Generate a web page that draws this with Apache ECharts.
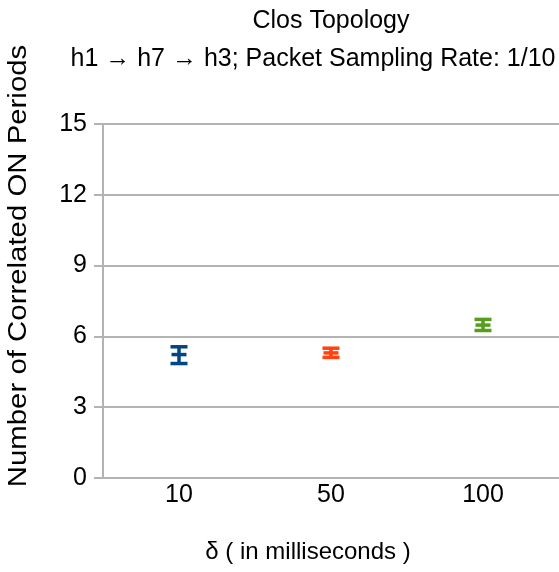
<!DOCTYPE html>
<html>
<head>
<meta charset="utf-8">
<script src="https://cdn.jsdelivr.net/npm/echarts@6/dist/echarts.min.js"></script>
<style>
  html, body { margin: 0; padding: 0; background: #fff; }
  #main { width: 559px; height: 572px; }
</style>
</head>
<body>
<div id="main"></div>
<script>
// data
var categories = ['10', '50', '100'];
var means = [5.23, 5.3, 6.48];
var lows = [4.85, 5.11, 6.25];
var highs = [5.56, 5.5, 6.72];
var colors = ['#004586', '#ff420e', '#579d1c'];

var font = "'Liberation Sans', Arial, sans-serif";
var grey = '#b3b3b3';

var chart = echarts.init(document.getElementById('main'));

var errData = categories.map(function (c, i) {
  return [i, lows[i], highs[i], means[i]];
});

chart.setOption({
  animation: false,
  title: [
    {
      text: 'Clos Topology',
      left: 326, top: 4, textAlign: 'center',
      textStyle: { fontFamily: font, fontSize: 25, fontWeight: 'normal', color: '#000' }
    },
    {
      text: 'h1 \u2192 h7 \u2192 h3; Packet Sampling Rate: 1/10',
      left: 308, top: 42, textAlign: 'center',
      textStyle: { fontFamily: font, fontSize: 25, fontWeight: 'normal', color: '#000' }
    }
  ],
  graphic: [{
    type: 'text',
    x: 19, y: 266,
    rotation: Math.PI / 2,
    scaleX: 1.13,
    style: {
      text: 'Number of Correlated ON Periods',
      font: '26px ' + font,
      fill: '#000',
      align: 'center',
      verticalAlign: 'middle'
    }
  }],
  grid: { left: 103, top: 124, right: -7, bottom: 94, containLabel: false },
  xAxis: {
    type: 'category',
    data: categories,
    name: '\u03b4 ( in milliseconds )',
    nameLocation: 'middle',
    nameGap: 62,
    nameTextStyle: { fontFamily: font, fontSize: 24, color: '#000', padding: [0, 0, 0, -46] },
    axisLine: { lineStyle: { color: grey, width: 2 } },
    axisTick: { show: false },
    axisLabel: { fontFamily: font, fontSize: 25, color: '#000', margin: 5 },
    splitLine: { show: false }
  },
  yAxis: {
    type: 'value',
    min: 0, max: 15, interval: 3,
    axisLine: { show: true, lineStyle: { color: grey, width: 2 } },
    axisTick: { show: true, length: 9, lineStyle: { color: grey, width: 2 } },
    axisLabel: { fontFamily: font, fontSize: 25, color: '#000', margin: 16 },
    splitLine: { show: true, lineStyle: { color: grey, width: 2 } }
  },
  series: [{
    type: 'custom',
    data: errData,
    renderItem: function (params, api) {
      var i = api.value(0);
      var lo = api.coord([i, api.value(1)]);
      var hi = api.coord([i, api.value(2)]);
      var mid = api.coord([i, api.value(3)]);
      var half = 8.5;
      var st = { stroke: colors[params.dataIndex], lineWidth: 3.5, lineCap: 'butt' };
      return {
        type: 'group',
        children: [
          { type: 'line', shape: { x1: lo[0], y1: lo[1], x2: hi[0], y2: hi[1] }, style: st },
          { type: 'line', shape: { x1: hi[0] - half, y1: hi[1], x2: hi[0] + half, y2: hi[1] }, style: st },
          { type: 'line', shape: { x1: lo[0] - half, y1: lo[1], x2: lo[0] + half, y2: lo[1] }, style: st },
          { type: 'line', shape: { x1: mid[0] - half + 1, y1: mid[1], x2: mid[0] + half - 1, y2: mid[1] }, style: st }
        ]
      };
    }
  }]
});
</script>
</body>
</html>
